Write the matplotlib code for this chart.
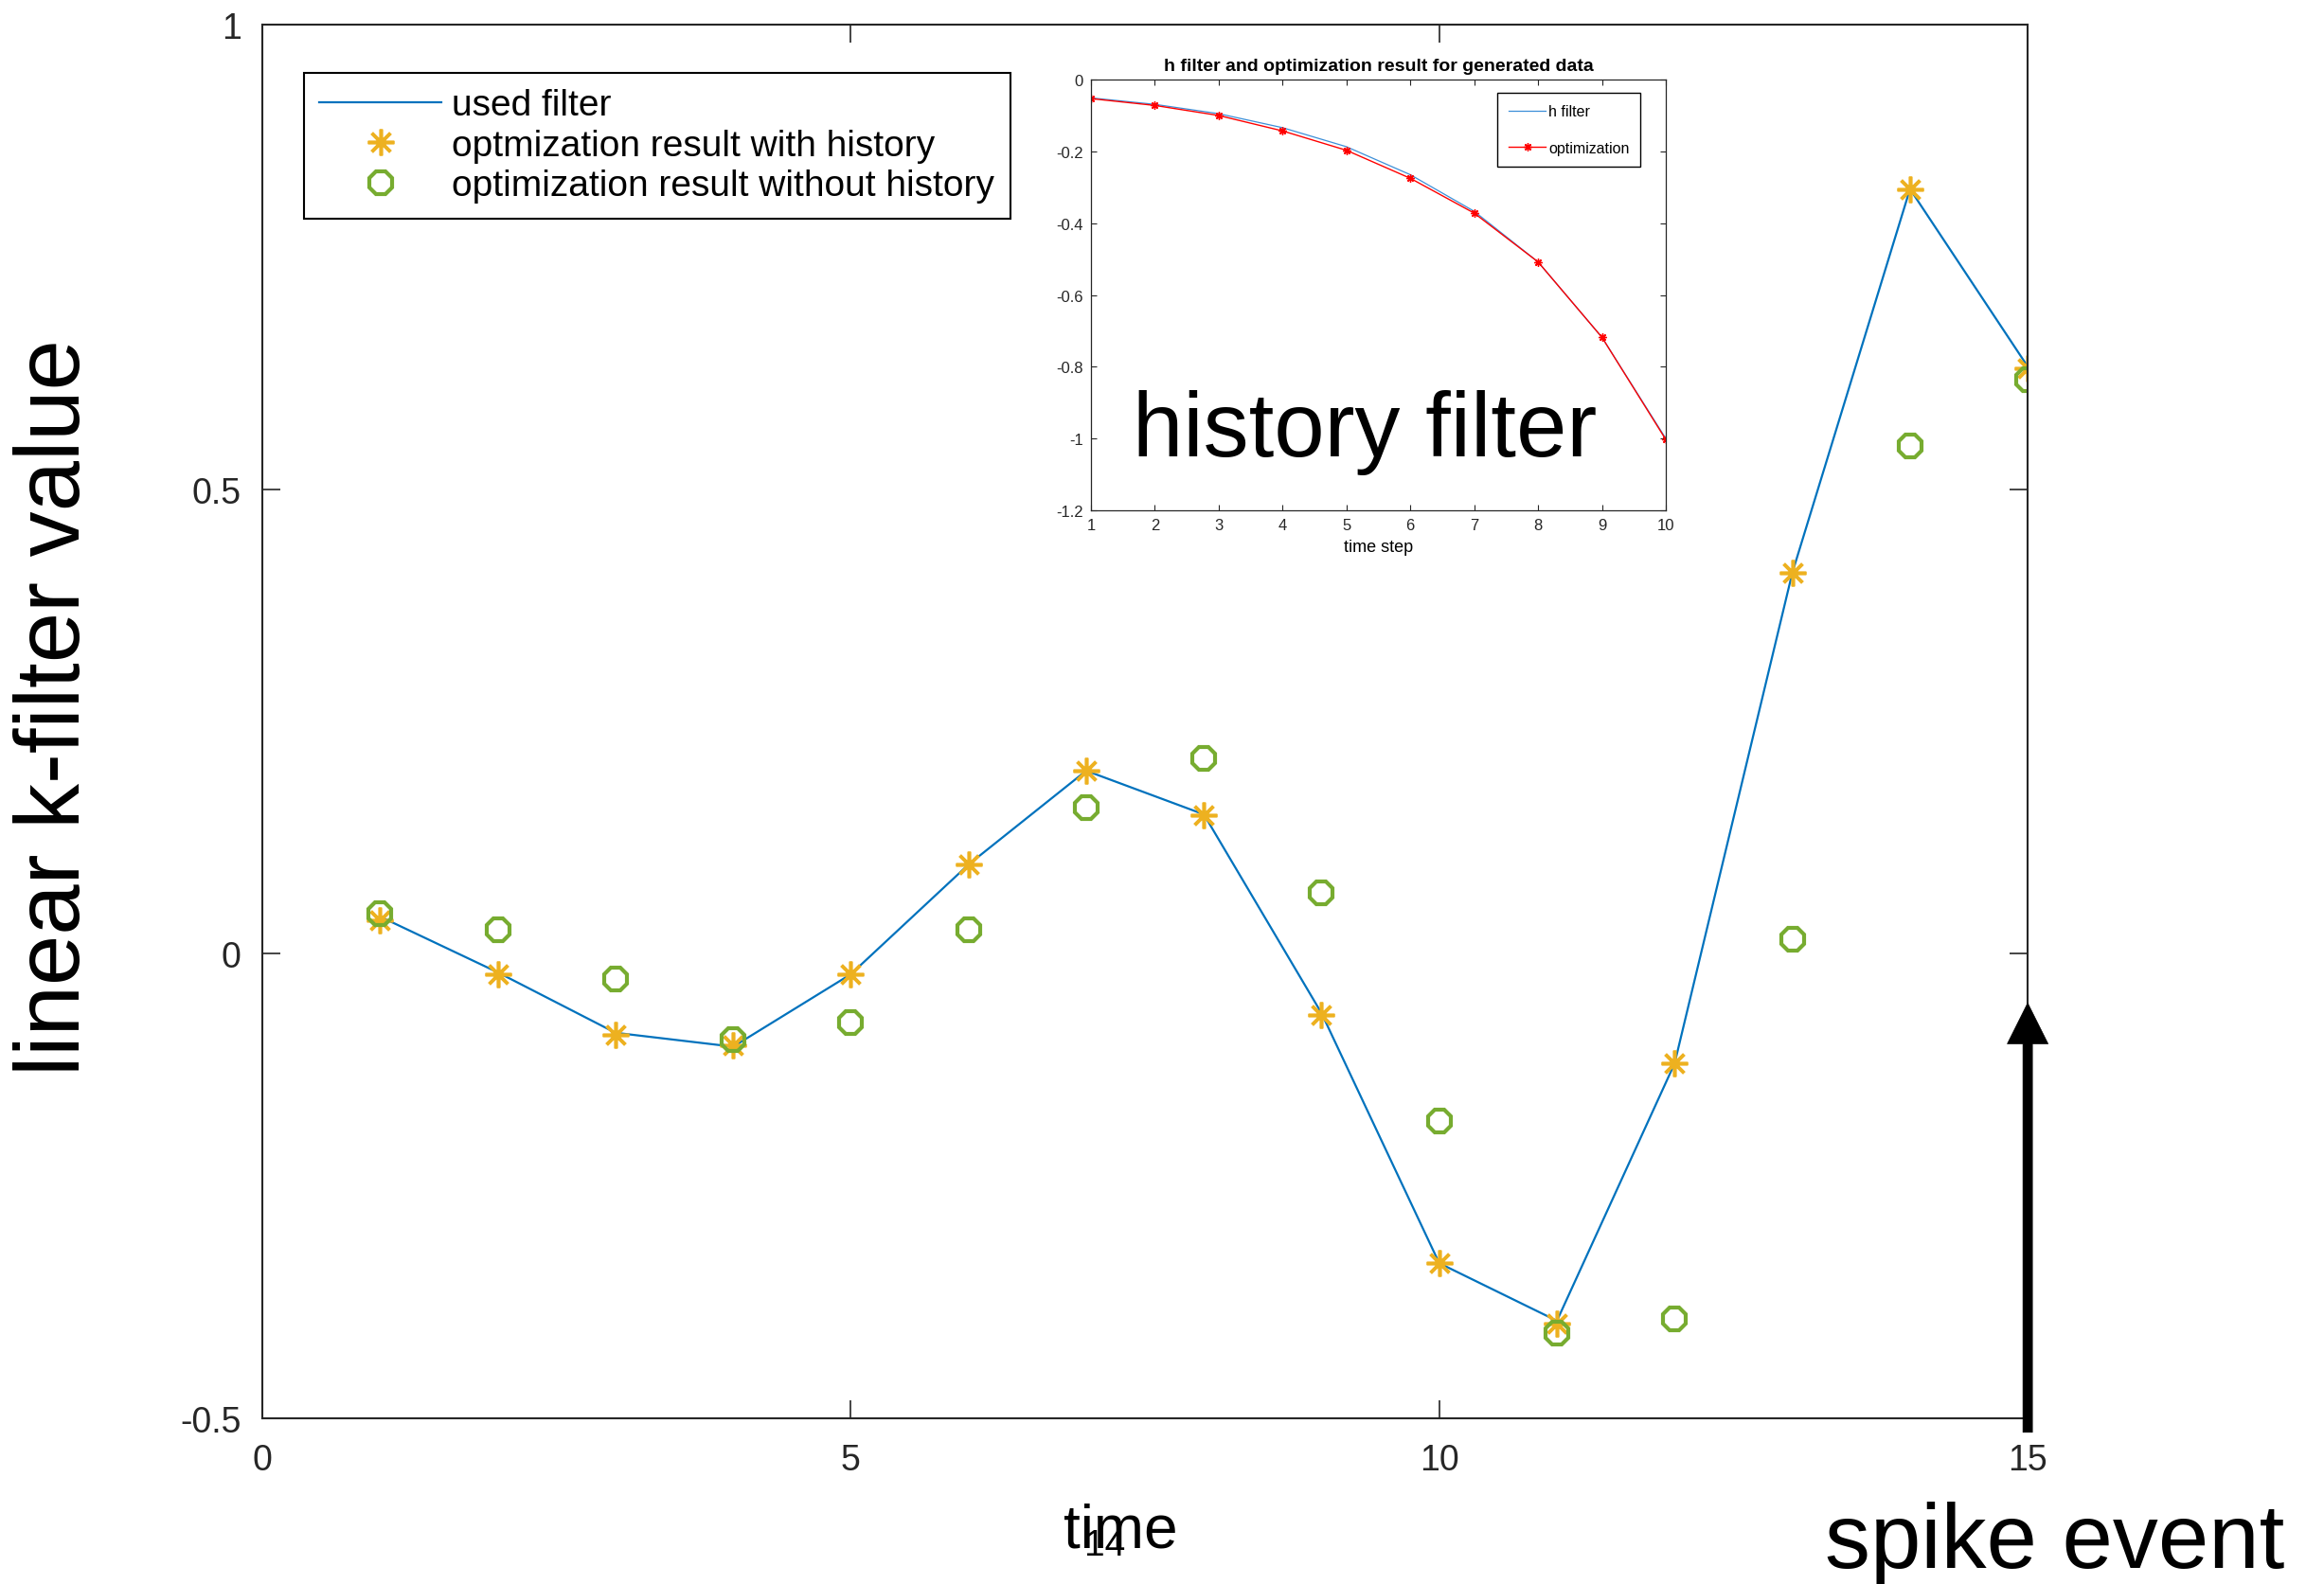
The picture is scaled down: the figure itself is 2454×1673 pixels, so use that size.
import numpy as np
import matplotlib
matplotlib.use('Agg')
from matplotlib import pyplot as plt

plt.rcParams['axes.unicode_minus'] = False
plt.rcParams['font.family'] = ['Liberation Sans', 'DejaVu Sans']

# main plot data (k filter)
time = np.arange(1, 16)
used_filter = [0.040, -0.020, -0.085, -0.100, -0.022, 0.096, 0.197, 0.150,
               -0.064, -0.333, -0.395, -0.118, 0.410, 0.823, 0.632]
with_history = [0.036, -0.022, -0.087, -0.098, -0.022, 0.096, 0.197, 0.149,
                -0.066, -0.333, -0.398, -0.118, 0.410, 0.823, 0.630]
without_history = [0.043, 0.026, -0.027, -0.092, -0.074, 0.026, 0.157, 0.210,
                   0.066, -0.180, -0.408, -0.393, 0.016, 0.547, 0.618]
main_xticks = [0, 5, 10, 15]
main_yticks = [-0.5, 0, 0.5, 1]
main_yticklabels = ['-0.5', '0', '0.5', '1']

# inset data (history filter)
time_step = np.arange(1, 11)
h_filter = [-0.051, -0.069, -0.095, -0.134, -0.187, -0.265, -0.367, -0.508, -0.718, -1.000]
h_optimization = [-0.053, -0.072, -0.100, -0.143, -0.197, -0.275, -0.372, -0.508, -0.718, -1.003]
inset_yticks = [-1.2, -1.0, -0.8, -0.6, -0.4, -0.2, 0]
inset_yticklabels = ['-1.2', '-1', '-0.8', '-0.6', '-0.4', '-0.2', '0']

blue = '#0072BD'
yellow = '#EDB120'
green = '#77AC30'
axcol = '#262626'

fig = plt.figure(figsize=(24.54, 16.74), dpi=100)

ax = fig.add_axes([0.1129, 0.1045, 0.7596, 0.8794])
ax.plot(time, used_filter, color=blue, lw=1.6, label='used filter')
ax.plot(time, with_history, ls='none', marker=(8, 2, 0), ms=20, mew=2.6,
        color=yellow, label='optmization result with history')
ax.plot(time, without_history, ls='none', marker='8', ms=19, mew=3.0,
        mfc='none', mec=green, label='optimization result without history')
ax.set_xlim(0, 15)
ax.set_ylim(-0.5, 1)
ax.set_xticks(main_xticks)
ax.set_yticks(main_yticks)
ax.set_yticklabels(main_yticklabels)
ax.tick_params(direction='in', length=14, width=1.2, labelsize=27, colors=axcol,
               top=True, right=True, pad=16)
ax.tick_params(axis='x', pad=19)
for s in ax.spines.values():
    s.set_color(axcol)
    s.set_linewidth(1.5)

leg = ax.legend(loc='upper left', bbox_to_anchor=(0.0236, 0.9654), borderaxespad=0,
                fontsize=28, handlelength=3.3, handletextpad=0.3, labelspacing=0.17,
                fancybox=False, edgecolor='black', framealpha=1, borderpad=0.42)
leg.get_frame().set_linewidth(1.5)

# spike arrow
ax.annotate('', xy=(15, -0.053), xytext=(15, -0.515), annotation_clip=False,
            arrowprops=dict(width=7.2, headwidth=31, headlength=31, shrink=0,
                            facecolor='black', edgecolor='black', lw=0.5))

# inset
ins = fig.add_axes([0.4694, 0.6774, 0.2474, 0.2718])
ins.plot(time_step, h_filter, color='#3C8FD8', lw=0.9, label='h filter')
ins.plot(time_step, h_optimization, color='red', lw=1.0, marker=(8, 2, 0), ms=6,
         mew=1.0, label='optimization')
ins.set_xlim(1, 10)
ins.set_ylim(-1.2, 0)
ins.set_xticks(time_step)
ins.set_yticks(inset_yticks)
ins.set_yticklabels(inset_yticklabels)
ins.tick_params(direction='in', length=4, width=0.8, labelsize=12, colors=axcol,
                top=True, right=True, pad=6)
for s in ins.spines.values():
    s.set_color(axcol)
    s.set_linewidth(0.9)
ins.set_title('h filter and optimization result for generated data',
              fontsize=14, fontweight='bold', pad=7)
ins.set_xlabel('time step', fontsize=13, labelpad=5)
ileg = ins.legend(loc='upper right', bbox_to_anchor=(0.956, 0.969), borderaxespad=0,
                  fontsize=11.5, handlelength=2.4, handletextpad=0.2, labelspacing=1.5,
                  borderpad=0.75, fancybox=False, edgecolor='black', framealpha=1)
ileg.get_frame().set_linewidth(1.0)

big = dict(family=['Liberation Sans'], color='black')
fig.text(1441 / 2454, 1 - 482 / 1674, 'history filter', fontsize=69, ha='center',
         va='baseline', **big)
fig.text(59 / 2454, 1 - 747 / 1674, 'linear k-filter value', fontsize=69, rotation=90,
         ha='center', va='center', **big)
fig.text(2170 / 2454, 1 - 1656 / 1674, 'spike event', fontsize=69, ha='center',
         va='baseline', **big)
fig.text(1183 / 2454, 1 - 1635 / 1674, 'time', fontsize=46, ha='center',
         va='baseline', **big)
fig.text(1167 / 2454, 1 - 1643 / 1674, '14', fontsize=28, ha='center',
         va='baseline', color='black', family=['Liberation Sans'])

fig.savefig('out.png', dpi=100)
